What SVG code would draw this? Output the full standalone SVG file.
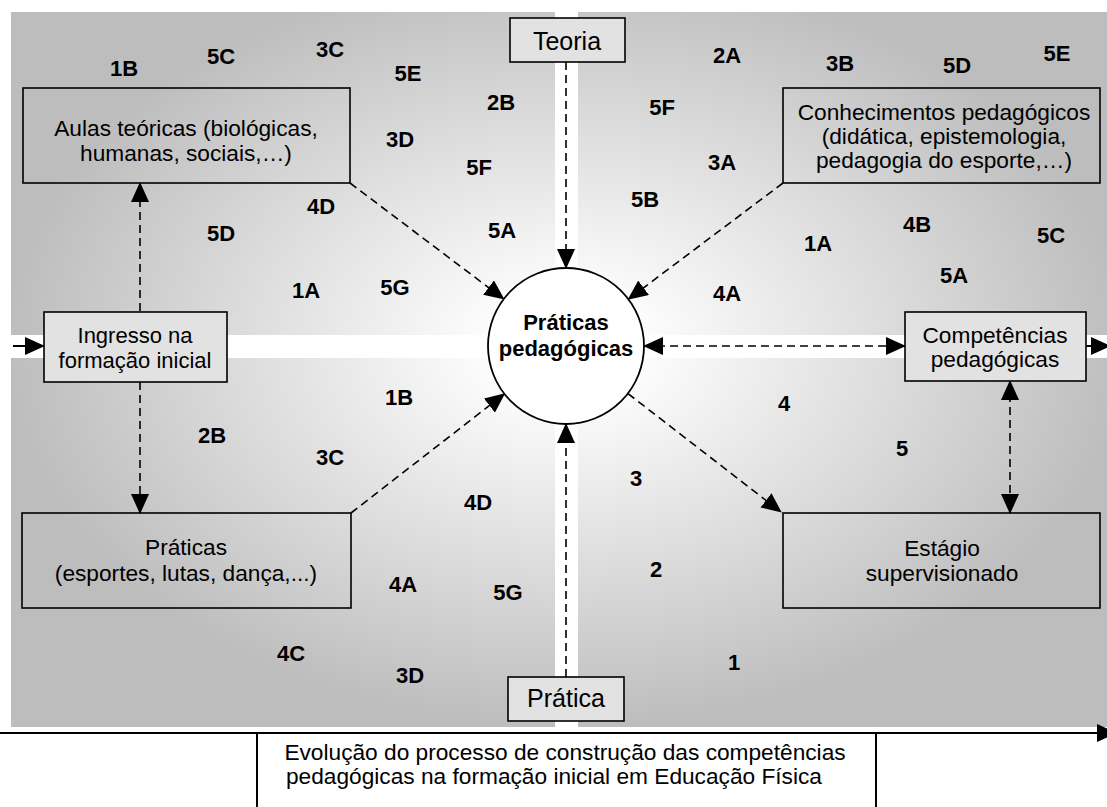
<svg xmlns="http://www.w3.org/2000/svg" width="1107" height="807" viewBox="0 0 1107 807">
<style>
text{font-family:"Liberation Sans",Arial,sans-serif;fill:#000}
.t{font-size:22.7px;text-anchor:middle}
.ti{font-size:22px;text-anchor:middle}
.tl{font-size:25px;text-anchor:middle}
.b{font-size:22px;font-weight:bold;text-anchor:middle}
.box{fill:none;stroke:#000;stroke-width:1.6}
.sbox{fill:#e2e2e2;stroke:#000;stroke-width:1.6}
.d{fill:none;stroke:#000;stroke-width:1.6;stroke-dasharray:8,5}
.s{fill:none;stroke:#000;stroke-width:2}
</style>
<defs>
<radialGradient id="bg" gradientUnits="userSpaceOnUse" cx="566" cy="346" r="560" gradientTransform="translate(566 346) scale(1 0.68) translate(-566 -346)">
<stop offset="0" stop-color="#ffffff"/>
<stop offset="0.15" stop-color="#fcfcfc"/>
<stop offset="1" stop-color="#bdbdbd"/>
</radialGradient>
<marker id="ah" markerUnits="userSpaceOnUse" markerWidth="20" markerHeight="18" refX="19" refY="9" orient="auto-start-reverse" viewBox="0 0 20 18">
<path d="M0,0 L20,9 L0,18 z" fill="#000"/>
</marker>
</defs>
<rect x="0" y="0" width="1107" height="807" fill="#fff"/>
<rect x="11" y="12" width="1096" height="715" fill="url(#bg)"/>
<rect x="555" y="0" width="23" height="727" fill="#fff"/>
<rect x="11" y="335" width="1096" height="23" fill="#fff"/>

<g id="connectors">
<line class="d" x1="566" y1="62" x2="566" y2="268" marker-end="url(#ah)"/>
<line class="d" x1="566" y1="677" x2="566" y2="424" marker-end="url(#ah)"/>
<line class="d" x1="350" y1="183" x2="503.7" y2="299" marker-end="url(#ah)"/>
<line class="d" x1="783" y1="183" x2="628.4" y2="299.2" marker-end="url(#ah)"/>
<line class="d" x1="351" y1="513" x2="504.4" y2="393.9" marker-end="url(#ah)"/>
<line class="d" x1="628" y1="393.6" x2="781" y2="512" marker-end="url(#ah)"/>
<line class="d" x1="644" y1="346" x2="905" y2="346" marker-start="url(#ah)" marker-end="url(#ah)"/>
<line class="d" x1="140" y1="311" x2="140" y2="183" marker-end="url(#ah)"/>
<line class="d" x1="140" y1="382" x2="140" y2="513" marker-end="url(#ah)"/>
<line class="d" x1="1010" y1="381" x2="1010" y2="513" marker-start="url(#ah)" marker-end="url(#ah)"/>
<line class="s" x1="13" y1="346" x2="44" y2="346" marker-end="url(#ah)"/>
<line class="s" x1="1086" y1="346" x2="1110" y2="346" marker-end="url(#ah)"/>
<line class="s" x1="0" y1="733" x2="1116" y2="733" marker-end="url(#ah)"/>
</g>

<g id="teoria">
<rect class="sbox" x="510" y="18" width="115" height="44"/>
<text class="tl" x="567" y="50">Teoria</text>
</g>
<g id="pratica">
<rect class="sbox" x="508" y="677" width="116" height="44"/>
<text class="tl" x="566" y="707">Prática</text>
</g>
<g id="aulas">
<rect class="box" x="23" y="88" width="327" height="95"/>
<text class="t" x="186" y="136">Aulas teóricas (biológicas,</text>
<text class="t" x="186" y="161">humanas, sociais,…)</text>
</g>
<g id="conhecimentos">
<rect class="box" x="783" y="88" width="317" height="95"/>
<text class="t" x="944" y="120">Conhecimentos pedagógicos</text>
<text class="t" x="944" y="144">(didática, epistemologia,</text>
<text class="t" x="944" y="168">pedagogia do esporte,…)</text>
</g>
<g id="ingresso">
<rect class="sbox" x="44" y="312" width="183" height="70"/>
<text class="ti" x="135" y="343">Ingresso na</text>
<text class="ti" x="135" y="368">formação inicial</text>
</g>
<g id="praticas">
<rect class="box" x="22" y="513" width="329" height="95"/>
<text class="t" x="186" y="555">Práticas</text>
<text class="t" x="186" y="581">(esportes, lutas, dança,...)</text>
</g>
<g id="competencias">
<rect class="sbox" x="905" y="312" width="181" height="69"/>
<text class="t" x="995" y="343">Competências</text>
<text class="t" x="995" y="367">pedagógicas</text>
</g>
<g id="estagio">
<rect class="box" x="783" y="513" width="317" height="95"/>
<text class="t" x="942" y="556">Estágio</text>
<text class="t" x="942" y="581">supervisionado</text>
</g>
<g id="centro">
<circle cx="566" cy="346" r="78" fill="#fff" stroke="#000" stroke-width="1.8"/>
<text class="b" x="566" y="330">Práticas</text>
<text class="b" x="566" y="356">pedagógicas</text>
</g>
<g id="evolucao">
<rect x="257" y="734" width="619" height="80" fill="#fff"/>
<line class="s" x1="257" y1="733" x2="257" y2="807" stroke-width="1.6"/>
<line class="s" x1="876" y1="733" x2="876" y2="807" stroke-width="1.6"/>
<text class="t" x="565" y="760">Evolução do processo de construção das competências</text>
<text class="t" x="554" y="784">pedagógicas na formação inicial em Educação Física</text>
</g>

<g id="labels">
<text class="b" x="124" y="76">1B</text>
<text class="b" x="221" y="64">5C</text>
<text class="b" x="330" y="57">3C</text>
<text class="b" x="408" y="81">5E</text>
<text class="b" x="501" y="110">2B</text>
<text class="b" x="400" y="147">3D</text>
<text class="b" x="479" y="175">5F</text>
<text class="b" x="321" y="214">4D</text>
<text class="b" x="221" y="241">5D</text>
<text class="b" x="502" y="238">5A</text>
<text class="b" x="306" y="298">1A</text>
<text class="b" x="395" y="295">5G</text>
<text class="b" x="727" y="63">2A</text>
<text class="b" x="840" y="71">3B</text>
<text class="b" x="957" y="73">5D</text>
<text class="b" x="1057" y="61">5E</text>
<text class="b" x="662" y="115">5F</text>
<text class="b" x="722" y="170">3A</text>
<text class="b" x="645" y="207">5B</text>
<text class="b" x="818" y="251">1A</text>
<text class="b" x="917" y="232">4B</text>
<text class="b" x="1051" y="243">5C</text>
<text class="b" x="954" y="283">5A</text>
<text class="b" x="727" y="301">4A</text>
<text class="b" x="399" y="405">1B</text>
<text class="b" x="212" y="443">2B</text>
<text class="b" x="330" y="465">3C</text>
<text class="b" x="478" y="510">4D</text>
<text class="b" x="403" y="592">4A</text>
<text class="b" x="508" y="600">5G</text>
<text class="b" x="291" y="661">4C</text>
<text class="b" x="410" y="683">3D</text>
<text class="b" x="784" y="411">4</text>
<text class="b" x="902" y="456">5</text>
<text class="b" x="636" y="486">3</text>
<text class="b" x="656" y="577">2</text>
<text class="b" x="734" y="670">1</text>
</g>
</svg>
